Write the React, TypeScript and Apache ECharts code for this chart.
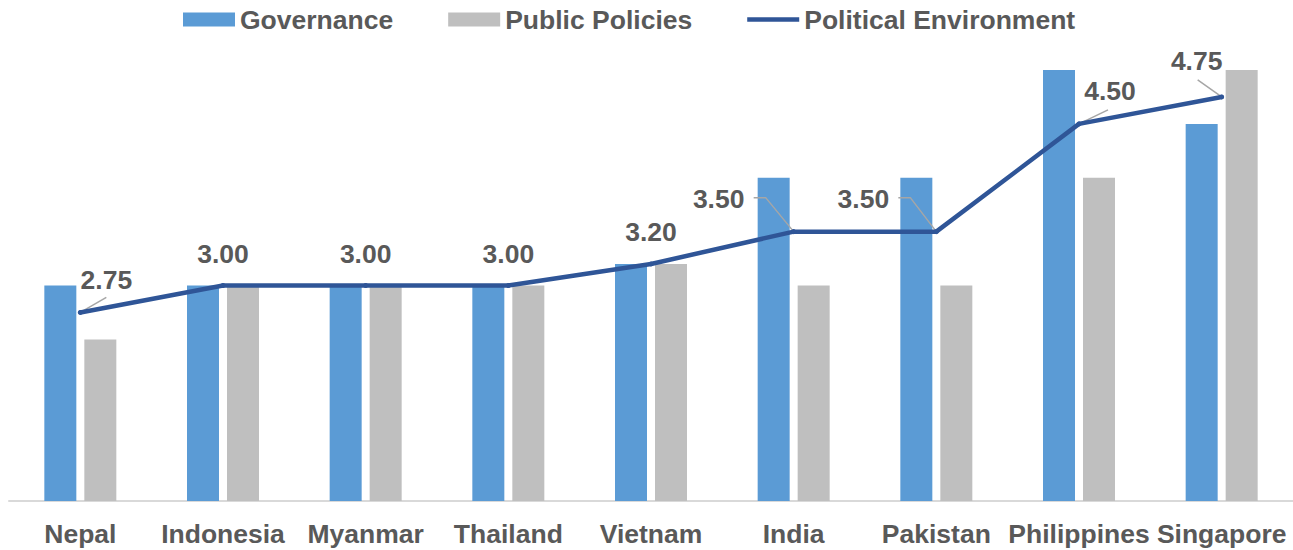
import React, { useEffect, useRef } from 'react';
import * as echarts from 'echarts';

const categories = ['Nepal', 'Indonesia', 'Myanmar', 'Thailand', 'Vietnam', 'India', 'Pakistan', 'Philippines', 'Singapore'];
const governance = [3.0, 3.0, 3.0, 3.0, 3.2, 4.0, 4.0, 5.0, 4.5];
const publicPolicies = [2.5, 3.0, 3.0, 3.0, 3.2, 3.0, 3.0, 4.0, 5.0];
const politicalEnvironment = [2.75, 3.0, 3.0, 3.0, 3.2, 3.5, 3.5, 4.5, 4.75];

const FONT = "'Liberation Sans', Arial, sans-serif";
const TEXT = '#595959';
const FS = 26.5;

export default function App() {
  const ref = useRef<HTMLDivElement>(null);
  useEffect(() => {
    if (!ref.current) return;
    const chart = echarts.init(ref.current, undefined, { renderer: 'svg' });

    // label placement tweaks (style only, pixel offsets relative to the point)
    const offsets: Record<number, [number, number]> = {
      0: [26, 0],
      5: [-75, -1],
      6: [-73, -1],
      7: [31, -1],
      8: [-25, -4],
    };
    // leader line shapes, relative to the data point
    const leaders: Record<number, [number, number][]> = {
      0: [[26, -15]],
      5: [[-28, -34], [-40, -34]],
      6: [[-26, -34], [-38, -34]],
      7: [[29, -14]],
      8: [[-24, -17]],
    };

    chart.setOption({
      animation: false,
      textStyle: { fontFamily: FONT },
      legend: {
        top: 1,
        left: 178,
        itemWidth: 52,
        itemHeight: 14,
        itemGap: 55,
        textStyle: { fontSize: FS, fontWeight: 'bold', color: TEXT, fontFamily: FONT },
        data: [
          { name: 'Governance', icon: 'rect' },
          { name: 'Public Policies', icon: 'rect' },
          { name: 'Political Environment', icon: 'path://M0,0 H52 V4.5 H0 Z' },
        ],
      },
      grid: { left: 9, right: 0, top: 70, bottom: 49, outerBoundsMode: 'none', containLabel: false },
      xAxis: {
        type: 'category',
        data: categories,
        axisTick: { show: false },
        axisLine: { lineStyle: { color: '#D9D9D9', width: 2 } },
        axisLabel: { interval: 0, margin: 19, fontSize: FS, fontWeight: 'bold', color: TEXT, fontFamily: FONT },
      },
      yAxis: { type: 'value', min: 1, max: 5, show: false, splitLine: { show: false } },
      series: [
        { name: 'Governance', type: 'bar', data: governance, barWidth: 32, barGap: '25%', itemStyle: { color: '#5B9BD5' } },
        { name: 'Public Policies', type: 'bar', data: publicPolicies, barWidth: 32, barGap: '25%', itemStyle: { color: '#BFBFBF' } },
        {
          name: 'leaders',
          type: 'custom',
          silent: true,
          z: 4,
          data: politicalEnvironment.map((v, i) => [i, v]),
          renderItem: (params: any, api: any) => {
            const segs = leaders[params.dataIndex];
            if (!segs) return null;
            const p = api.coord([api.value(0), api.value(1)]);
            return {
              type: 'polyline',
              shape: { points: [p, ...segs.map((s) => [p[0] + s[0], p[1] + s[1]])] },
              style: { stroke: '#A6A6A6', lineWidth: 1.5, fill: null },
            };
          },
        },
        {
          name: 'Political Environment',
          type: 'line',
          data: politicalEnvironment,
          symbol: 'circle',
          symbolSize: 5,
          z: 5,
          itemStyle: { color: '#2F5597' },
          lineStyle: { color: '#2F5597', width: 4.5, cap: 'round', join: 'round' },
          label: {
            show: true,
            position: 'top',
            distance: 16,
            formatter: (p: any) => Number(p.value).toFixed(2),
            fontSize: FS,
            fontWeight: 'bold',
            color: TEXT,
            fontFamily: FONT,
          },
          labelLayout: (params: any) => {
            const o = offsets[params.dataIndex];
            return o ? { dx: o[0], dy: o[1] } : {};
          },
        },
      ],
    });
    return () => chart.dispose();
  }, []);
  return <div ref={ref} style={{ position: 'absolute', left: 0, top: 0, width: 1293, height: 550, background: '#fff' }} />;
}
